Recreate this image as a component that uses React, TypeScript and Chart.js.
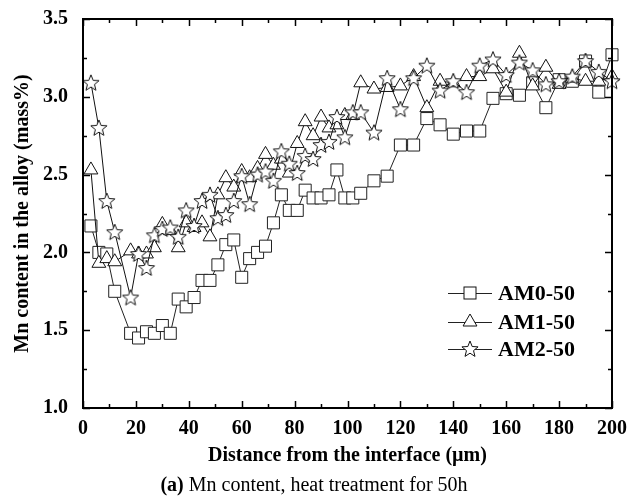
import React, { useEffect, useRef } from 'react';
import { Chart, registerables } from 'chart.js';

Chart.register(...registerables);

// Distance from the interface (µm)
const distance = [
  3, 6, 9, 12, 18, 21, 24, 27, 30, 33, 36, 39, 42, 45, 48, 51, 54, 57, 60, 63,
  66, 69, 72, 75, 78, 81, 84, 87, 90, 93, 96, 99, 102, 105, 110, 115, 120, 125,
  130, 135, 140, 145, 150, 155, 160, 165, 170, 175, 180, 185, 190, 195, 200,
];

const am0 = [
  2.17, 2.0, 1.99, 1.75, 1.48, 1.45, 1.49, 1.48, 1.53, 1.48, 1.7, 1.65, 1.71, 1.82, 1.82, 1.92, 2.05, 2.08, 1.84, 1.96,
  2.0, 2.04, 2.19, 2.37, 2.27, 2.27, 2.4, 2.35, 2.35, 2.37, 2.53, 2.35, 2.35, 2.38, 2.46, 2.49, 2.69, 2.69,
  2.86, 2.82, 2.76, 2.78, 2.78, 2.99, 3.02, 3.01, 3.09, 2.93, 3.11, 3.1, 3.23, 3.03, 3.27,
];

const am1 = [
  2.53, 1.93, 1.96, 1.94, 2.01, 1.99, 1.99, 2.03, 2.18, 2.14, 2.03, 2.19, 2.16, 2.19, 2.1, 2.37, 2.48, 2.42, 2.52, 2.48,
  2.54, 2.63, 2.56, 2.6, 2.51, 2.7, 2.84, 2.75, 2.87, 2.8, 2.82, 2.88, 2.88, 3.09, 3.05, 3.06, 3.07, 3.13,
  2.93, 3.1, 3.09, 3.13, 3.13, 3.18, 3.03, 3.28, 3.07, 3.19, 3.08, 3.12, 3.1, 3.1, 3.13,
];

const am2 = [
  3.09, 2.8, 2.33, 2.13, 1.71, 1.99, 1.9, 2.11, 2.15, 2.16, 2.1, 2.27, 2.17, 2.33, 2.37, 2.22, 2.24, 2.33, 2.49, 2.31,
  2.5, 2.52, 2.46, 2.65, 2.57, 2.51, 2.62, 2.6, 2.69, 2.71, 2.87, 2.74, 2.9, 2.9, 2.77, 3.12, 2.92, 3.12,
  3.2, 3.04, 3.1, 3.03, 3.2, 3.24, 3.14, 3.22, 3.17, 3.08, 3.1, 3.13, 3.23, 3.16, 3.1,
];

const seriesNames = ['AM0-50', 'AM1-50', 'AM2-50'];

const xTitle = 'Distance from the interface (µm)';
const yTitle = 'Mn content in the alloy (mass%)';

const FONT = '"Liberation Serif", "Times New Roman", serif';

function makeStar(): HTMLCanvasElement {
  const c = document.createElement('canvas');
  c.width = 20;
  c.height = 20;
  const ctx = c.getContext('2d')!;
  const cx = 10, cy = 10.5, ro = 8.5, ri = 3.7;
  ctx.beginPath();
  for (let i = 0; i < 10; i++) {
    const r = i % 2 === 0 ? ro : ri;
    const a = -Math.PI / 2 + (i * Math.PI) / 5;
    const px = cx + r * Math.cos(a);
    const py = cy + r * Math.sin(a);
    if (i === 0) ctx.moveTo(px, py);
    else ctx.lineTo(px, py);
  }
  ctx.closePath();
  ctx.fillStyle = '#fff';
  ctx.fill();
  ctx.lineWidth = 1;
  ctx.strokeStyle = '#111';
  ctx.stroke();
  return c;
}

const toPts = (ys: number[]) => distance.map((x, i) => ({ x, y: ys[i] }));

export default function App() {
  const ref = useRef<HTMLCanvasElement>(null);

  useEffect(() => {
    document.body.style.margin = '0';
    const star = makeStar();

    const framePlugin = {
      id: 'frame',
      afterDraw(chart: any) {
        const { ctx, chartArea: a, scales } = chart;
        const xs = scales.x, ys = scales.y;
        ctx.save();
        ctx.strokeStyle = '#000';
        ctx.lineWidth = 1.5;
        ctx.beginPath();
        for (let v = 0; v <= 200; v += 10) {
          const p = Math.round(xs.getPixelForValue(v)) + 0.5;
          const len = v % 20 === 0 ? 7 : 4;
          ctx.moveTo(p, a.bottom);
          ctx.lineTo(p, a.bottom - len);
          ctx.moveTo(p, a.top);
          ctx.lineTo(p, a.top + len);
        }
        for (let v = 1; v <= 3.5001; v += 0.25) {
          const p = Math.round(ys.getPixelForValue(v)) + 0.5;
          const len = Math.abs((v * 2) - Math.round(v * 2)) < 1e-6 ? 7 : 4;
          ctx.moveTo(a.left, p);
          ctx.lineTo(a.left + len, p);
          ctx.moveTo(a.right, p);
          ctx.lineTo(a.right - len, p);
        }
        ctx.stroke();
        ctx.lineWidth = 2;
        ctx.strokeRect(a.left, a.top, a.right - a.left, a.bottom - a.top);

        // legend
        const rows = [293, 322, 349];
        ctx.font = `bold 22px ${FONT}`;
        ctx.textBaseline = 'middle';
        ctx.textAlign = 'left';
        rows.forEach((ry, i) => {
          ctx.lineWidth = 1;
          ctx.strokeStyle = '#222';
          ctx.beginPath();
          ctx.moveTo(448, ry + 0.5);
          ctx.lineTo(492, ry + 0.5);
          ctx.stroke();
          const mx = 470;
          ctx.fillStyle = '#fff';
          ctx.strokeStyle = '#111';
          if (i === 0) {
            ctx.fillRect(mx - 6, ry - 6, 12, 12);
            ctx.strokeRect(mx - 6, ry - 6, 12, 12);
          } else if (i === 1) {
            const r = 8;
            ctx.beginPath();
            ctx.moveTo(mx, ry - r);
            ctx.lineTo(mx + r * Math.sin((2 * Math.PI) / 3), ry + r / 2);
            ctx.lineTo(mx - r * Math.sin((2 * Math.PI) / 3), ry + r / 2);
            ctx.closePath();
            ctx.fill();
            ctx.stroke();
          } else {
            ctx.drawImage(star, mx - 10, ry - 10);
          }
          ctx.fillStyle = '#000';
          ctx.fillText(seriesNames[i], 498, ry + 1);
        });
        ctx.restore();
      },
    };

    const common = {
      borderWidth: 1,
      pointBackgroundColor: '#fff',
      pointBorderWidth: 1,
      pointHoverRadius: 8,
      fill: false,
      tension: 0,
      clip: false as any,
    };

    const chart = new Chart(ref.current!, {
      type: 'line',
      data: {
        datasets: [
          {
            ...common,
            label: seriesNames[0],
            data: toPts(am0),
            borderColor: '#222',
            pointBorderColor: '#222',
            pointStyle: 'rect',
            pointRadius: 8.5,
            order: 2,
          },
          {
            ...common,
            label: seriesNames[1],
            data: toPts(am1),
            borderColor: '#111',
            pointBorderColor: '#111',
            pointStyle: 'triangle',
            pointRadius: 8,
            order: 1,
          },
          {
            ...common,
            label: seriesNames[2],
            data: toPts(am2),
            borderColor: '#111',
            pointBorderColor: '#111',
            pointStyle: star as any,
            pointRadius: 8,
            order: 0,
          },
        ],
      },
      options: {
        responsive: false,
        animation: false,
        devicePixelRatio: 1,
        layout: { padding: { top: 16, right: 16, bottom: 0, left: 0 } },
        plugins: {
          legend: { display: false },
          tooltip: { enabled: false },
        },
        scales: {
          x: {
            type: 'linear',
            min: 0,
            max: 200,
            grid: { display: false },
            border: { display: false },
            ticks: {
              stepSize: 20,
              color: '#000',
              padding: 1,
              maxRotation: 0,
              font: { family: FONT, size: 20, weight: 'bold' },
            },
            title: {
              display: true,
              text: xTitle,
              color: '#000',
              font: { family: FONT, size: 20, weight: 'bold' },
              padding: { top: 0, bottom: 36 },
            },
            afterFit: (s: any) => {
              s.height = 96;
            },
          },
          y: {
            type: 'linear',
            min: 1,
            max: 3.5,
            grid: { display: false },
            border: { display: false },
            ticks: {
              stepSize: 0.5,
              color: '#000',
              padding: 7,
              font: { family: FONT, size: 20, weight: 'bold' },
              callback: (v: any) => Number(v).toFixed(1),
            },
            title: {
              display: true,
              text: yTitle,
              color: '#000',
              font: { family: FONT, size: 20, weight: 'bold' },
              padding: { top: 11, bottom: 0 },
            },
            afterFit: (s: any) => {
              s.width = 83;
            },
          },
        },
      } as any,
      plugins: [framePlugin],
    });
    return () => chart.destroy();
  }, []);

  return (
    <div style={{ position: 'relative', width: 628, height: 504 }}>
      <canvas ref={ref} width={628} height={504} style={{ display: 'block', width: 628, height: 504 }} />
      <div
        style={{
          position: 'absolute',
          left: 0,
          top: 472,
          width: 628,
          textAlign: 'center',
          fontFamily: FONT,
          fontSize: 20,
          lineHeight: '24px',
          color: '#000',
        }}
      >
        <b>(a)</b> Mn content, heat treatment for 50h
      </div>
    </div>
  );
}
